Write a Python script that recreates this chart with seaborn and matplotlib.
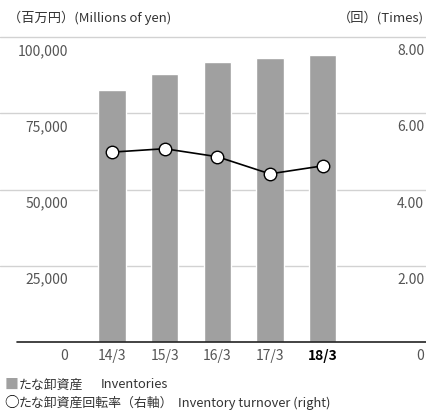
import pandas as pd
import matplotlib
matplotlib.use('Agg')
import matplotlib.pyplot as plt
import seaborn as sns

# data
years = ['14/3', '15/3', '16/3', '17/3', '18/3']
inventories = [82600, 87900, 91800, 93100, 94100]
turnover = [4.98, 5.07, 4.86, 4.41, 4.62]
left_ticks = [0, 25000, 50000, 75000, 100000]
right_ticks = [0, 2, 4, 6, 8]

df = pd.DataFrame({'year': years, 'inv': inventories, 'turn': turnover})

sns.set_style('white')
plt.rcParams['font.family'] = ['Noto Sans CJK JP', 'DejaVu Sans']

fig = plt.figure(figsize=(4.26, 4.12), dpi=100)
ax = fig.add_axes([0, 70 / 412, 1, 305 / 412])

sns.barplot(data=df, x='year', y='inv', color='#a0a0a0', width=0.52,
            saturation=1, ax=ax, zorder=2)
ax.set_ylim(0, 100000)
ax.set_xlim(-2.127, 5.964)

# gridlines
for t in left_ticks[1:]:
    ax.axhline(t, color='#d2d2d2', lw=1, zorder=0, clip_on=False)
ax.axhline(0, color='#222222', lw=1.2, zorder=3, xmin=17 / 426, clip_on=False)

ax2 = ax.twinx()
ax2.set_ylim(0, 8)
sns.lineplot(data=df, x='year', y='turn', color='black', lw=1.2, marker='o',
             markersize=9, markerfacecolor='white', markeredgecolor='black',
             markeredgewidth=1, ax=ax2, zorder=4)

for a in (ax, ax2):
    a.set_xlabel('')
    a.set_ylabel('')
    a.set_yticks([])
    a.set_xticks([])
    for s in a.spines.values():
        s.set_visible(False)
ax.patch.set_visible(False)

tcol = '#555555'
# left axis labels (just below each gridline)
for t in left_ticks:
    ax.text(-0.835, t - 2300, f'{t:,}', ha='right', va='top', fontsize=10, color=tcol)
# right axis labels
for t in right_ticks:
    ax2.text(5.93, t - 0.184, f'{t:.2f}' if t else '0', ha='right', va='top',
             fontsize=10, color=tcol, clip_on=False)

# category labels
for i, y in enumerate(years):
    last = i == len(years) - 1
    ax.text(i, -2300, y, ha='center', va='top', fontsize=10,
            color='black' if last else tcol, fontweight='bold' if last else 'normal')

fig.text(8 / 426, 1 - 18 / 412, '（百万円）(Millions of yen)', ha='left', va='center',
         fontsize=9.5, color='#333333')
fig.text(424 / 426, 1 - 18 / 412, '（回）(Times)', ha='right', va='center',
         fontsize=9.5, color='#333333')

# legend
fig.text(5 / 426, 1 - 385 / 412, '■', ha='left', va='center', fontsize=10, color='#a0a0a0')
fig.text(19 / 426, 1 - 385 / 412, 'たな卸資産', ha='left', va='center', fontsize=9.3, color='#333333')
fig.text(101 / 426, 1 - 385 / 412, 'Inventories', ha='left', va='center', fontsize=9.3, color='#333333')
fig.text(4 / 426, 1 - 403 / 412, '○', ha='left', va='center', fontsize=10.5, color='black')
fig.text(19 / 426, 1 - 403 / 412, 'たな卸資産回転率（右軸）', ha='left', va='center', fontsize=9.3, color='#333333')
fig.text(178 / 426, 1 - 403 / 412, 'Inventory turnover (right)', ha='left', va='center', fontsize=9.3, color='#333333')

fig.savefig('out.png', dpi=100)
